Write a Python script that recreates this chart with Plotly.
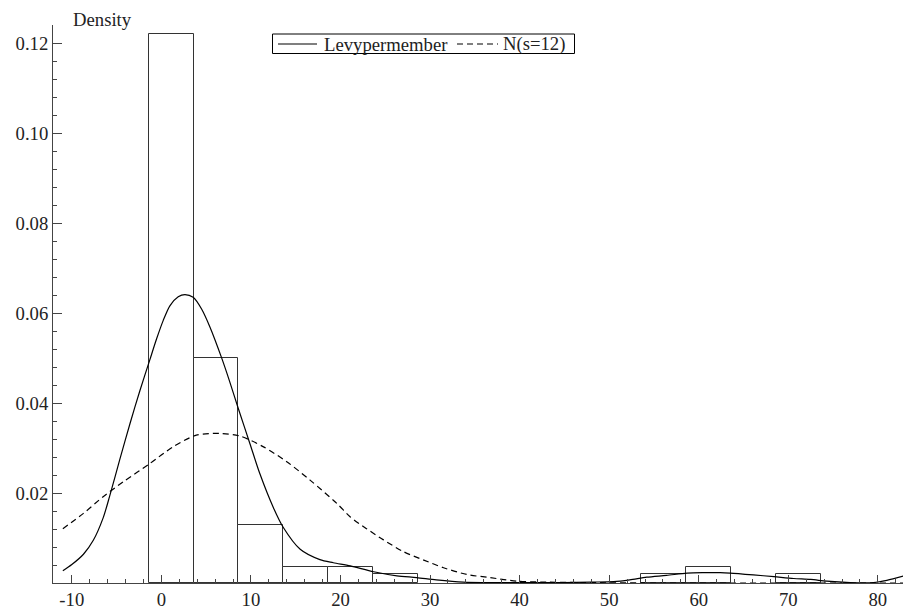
import plotly.graph_objects as go

# Histogram (density) bins: width 5, edges at -1.4 + 5k
bin_centers = [1.1, 6.1, 11.1, 16.1, 21.1, 26.1, 56.1, 61.1, 71.1]
bin_density = [0.1222, 0.0501, 0.0130, 0.0036, 0.0036, 0.0019, 0.0019, 0.0036, 0.0019]
bin_width = 5

# Kernel density estimate (solid)
kde_x = [-11.0, -10.0, -8.7, -7.6, -6.5, -5.75, -4.64, -3.5, -2.4, -1.3, -0.54, 0.2,
         0.95, 1.88, 2.63, 3.55, 4.49, 5.42, 6.73, 7.6, 8.58, 9.89, 11.0, 12.5, 13.6,
         15.5, 17.7, 19.2, 21.1, 23.7, 26.3, 28.5, 30.7, 33.7, 36.0, 40.0, 45.0, 48.0,
         50.5, 52.3, 54.2, 56.4, 58.7, 60.5, 62.4, 63.5, 66.1, 68.4, 70.6, 72.5, 74.3,
         76.9, 79.5, 81.0, 83.3]
kde_y = [0.0027, 0.0041, 0.0064, 0.0095, 0.0145, 0.0195, 0.0275, 0.0355, 0.0428, 0.0496,
         0.0543, 0.0584, 0.0617, 0.0637, 0.0642, 0.0636, 0.0610, 0.0570, 0.0501, 0.0450,
         0.0389, 0.0310, 0.0243, 0.0168, 0.0124, 0.0075, 0.0052, 0.0045, 0.0038, 0.0025,
         0.0016, 0.0012, 0.0007, 0.0002, 0.0001, 0.0001, 0.0001, 0.0002, 0.0003, 0.0007,
         0.0013, 0.0017, 0.0022, 0.0023, 0.0023, 0.0022, 0.0018, 0.0014, 0.0010, 0.0008,
         0.0004, 0.0001, 0.0001, 0.0006, 0.0018]

# Normal reference curve N(s=12) (dashed)
norm_x = [-11.0, -8.7, -6.5, -4.27, -1.28, 1.3, 3.9, 6.5, 8.8, 11.4, 14.0, 16.6, 19.6,
          21.1, 22.9, 24.8, 27.0, 29.3, 31.5, 34.1, 36.7, 39.7, 43.0, 47.0, 55.0, 83.3]
norm_y = [0.0121, 0.0155, 0.0192, 0.0225, 0.0266, 0.0303, 0.0329, 0.0333, 0.0327, 0.0303,
          0.0270, 0.0229, 0.0177, 0.0147, 0.0121, 0.0096, 0.0070, 0.0051, 0.0034, 0.0019,
          0.0012, 0.0004, 0.0002, 0.0001, 0.0, 0.0]

series_names = ["Levypermember", "N(s=12)"]
x_ticks = [-10, 0, 10, 20, 30, 40, 50, 60, 70, 80]
x_tick_labels = ["-10", "0", "10", "20", "30", "40", "50", "60", "70", "80"]
y_ticks = [0.02, 0.04, 0.06, 0.08, 0.10, 0.12]
y_tick_labels = ["0.02", "0.04", "0.06", "0.08", "0.10", "0.12"]

FONT = "Liberation Serif, Times New Roman, serif"
FS = 18.7
TXT = "#222"
AX = "#444"

# The page body has an 8px margin, so figure coords = screen coords - 8
OFF = 8
FIG_W, FIG_H = 911 - OFF, 612 - OFF
# plot area in screen pixels
L, R, T, B = 53, 911, 25, 583
W, H = R - L, B - T


def px(x):
    return (x - L) / W


def py(y):
    return (B - y) / H


fig = go.Figure()
fig.add_trace(go.Bar(x=bin_centers, y=bin_density, width=bin_width,
                     marker=dict(color="white", line=dict(color="#333", width=1)),
                     showlegend=False, hoverinfo="skip"))
fig.add_trace(go.Scatter(x=kde_x, y=kde_y, mode="lines", name=series_names[0],
                         line=dict(color="black", width=1.2, shape="spline", smoothing=0.8),
                         showlegend=False))
fig.add_trace(go.Scatter(x=norm_x, y=norm_y, mode="lines", name=series_names[1],
                         line=dict(color="black", width=1.2, dash="6px,4px",
                                   shape="spline", smoothing=0.8),
                         showlegend=False))

fig.update_layout(
    width=FIG_W, height=FIG_H,
    margin=dict(l=L - OFF, r=(911 - OFF) - (R - OFF), t=T - OFF, b=FIG_H - (B - OFF),
                autoexpand=False),
    plot_bgcolor="white", paper_bgcolor="white",
    font=dict(family=FONT, size=FS, color=TXT),
    showlegend=False,
    bargap=0,
)
fig.update_xaxes(range=[-12.1, 83.7], showline=True, linecolor=AX, linewidth=1,
                 showgrid=False, zeroline=False, tickmode="array", tickvals=x_ticks,
                 ticktext=x_tick_labels,
                 ticks="inside", ticklen=8, tickcolor=AX, automargin=False,
                 minor=dict(tickmode="linear", tick0=0, dtick=2, ticks="inside",
                            ticklen=4, tickcolor=AX))
fig.update_yaxes(range=[0, 0.1242], showline=True, linecolor=AX, linewidth=1,
                 showgrid=False, zeroline=False, tickmode="array", tickvals=y_ticks,
                 ticktext=y_tick_labels, ticks="inside", ticklen=9, tickcolor=AX,
                 automargin=False,
                 minor=dict(tickmode="linear", tick0=0, dtick=0.004, ticks="inside",
                            ticklen=4, tickcolor=AX))
fig.add_annotation(text="Density", xref="paper", yref="paper", x=px(71),
                   y=py(19.5), xanchor="left", yanchor="middle", showarrow=False,
                   font=dict(family=FONT, size=FS, color=TXT))

# legend box drawn by hand (tight frame as in the reference)
fig.add_shape(type="rect", xref="paper", yref="paper", x0=px(272.5), x1=px(574.5),
              y0=py(53.5), y1=py(34), line=dict(color="black", width=1),
              fillcolor="white", layer="above")
fig.add_shape(type="line", xref="paper", yref="paper", x0=px(278), x1=px(317),
              y0=py(44), y1=py(44), line=dict(color="black", width=1.2), layer="above")
fig.add_shape(type="line", xref="paper", yref="paper", x0=px(457), x1=px(498),
              y0=py(44), y1=py(44), line=dict(color="black", width=1.2, dash="6px,4px"),
              layer="above")
fig.add_annotation(text=series_names[0], xref="paper", yref="paper", x=px(322),
                   y=py(44), xanchor="left", yanchor="middle", showarrow=False,
                   font=dict(family=FONT, size=FS, color=TXT))
fig.add_annotation(text=series_names[1], xref="paper", yref="paper", x=px(501),
                   y=py(44), xanchor="left", yanchor="middle", showarrow=False,
                   font=dict(family=FONT, size=FS, color=TXT))

fig.write_html("out.html")
